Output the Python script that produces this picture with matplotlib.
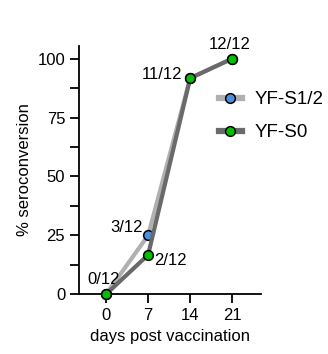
import numpy as np
import matplotlib
matplotlib.use('Agg')
import matplotlib.pyplot as plt

plt.rcParams['font.family'] = ['Liberation Sans', 'DejaVu Sans']
fontsize = 12

days = [0, 7, 14, 21]
s12 = [0, 25, 91.7, 100]
s0 = [0, 16.7, 91.7, 100]
labels = ['YF-S1/2', 'YF-S0']

fig = plt.figure(figsize=(3.28, 3.54), dpi=100)
ax = fig.add_axes([0.241, 0.169, 0.555, 0.702])

ax.plot(days, s12, color='#b0b0b0', lw=3, marker='o', ms=7, mfc='#4a90e2',
        mec='black', mew=1.1, label=labels[0], clip_on=False, zorder=3)
ax.plot(days, s0, color='#6a6a6a', lw=3, marker='o', ms=7, mfc='#00c000',
        mec='black', mew=1.1, label=labels[1], clip_on=False, zorder=4)

ax.set_xlim(-4.5, 25.8)
ax.set_ylim(0, 105.5)
ax.set_xticks(days)
ax.set_yticks([0, 25, 50, 75, 100])
ax.set_yticks([12.5, 37.5, 62.5, 87.5], minor=True)
ax.tick_params(labelsize=fontsize, width=1.3, length=6.5, direction='out')
ax.tick_params(which='minor', width=1.3, length=6.5)
for s in ['top', 'right']:
    ax.spines[s].set_visible(False)
for s in ['left', 'bottom']:
    ax.spines[s].set_linewidth(1.3)

ax.set_xlabel('days post vaccination', fontsize=fontsize)
ax.set_ylabel('% seroconversion', fontsize=fontsize)

kw = dict(fontsize=fontsize)
ax.annotate('0/12', (0, 0), xytext=(-2, 5), textcoords='offset points', ha='center', va='bottom', **kw)
ax.annotate('3/12', (7, 25), xytext=(-4, 0), textcoords='offset points', ha='right', va='bottom', **kw)
ax.annotate('2/12', (7, 16.7), xytext=(4, -4), textcoords='offset points', ha='left', va='center', **kw)
ax.annotate('11/12', (14, 91.7), xytext=(-6, -3), textcoords='offset points', ha='right', va='bottom', **kw)
ax.annotate('12/12', (21, 100), xytext=(-2, 5), textcoords='offset points', ha='center', va='bottom', **kw)

leg = fig.legend(loc='upper left', bbox_to_anchor=(0.615, 0.79), frameon=False, fontsize=13.5,
                 handlelength=1.25, handletextpad=0.65, labelspacing=0.85)
for h in leg.get_lines():
    h.set_linewidth(4.5)

fig.savefig('out.png', dpi=100)
